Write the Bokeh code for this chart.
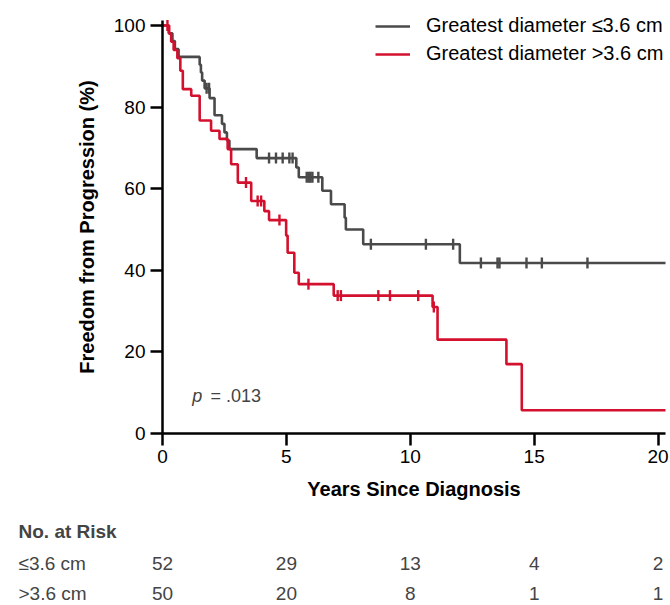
import numpy as np
from bokeh.plotting import figure
from bokeh.models import Range1d, FixedTicker, Label, Legend, LegendItem, LinearAxis
from bokeh.embed import file_html
from bokeh.resources import INLINE

FONT = "Liberation Sans"
GRAY = "#4a4a4a"
RED = "#d3112e"

# ---------------- data ----------------
x_max = 20.3

small_label = "Greatest diameter \u22643.6 cm"
small_t = [0, 0.25, 0.40, 0.50, 0.65, 1.50, 1.55, 1.60, 1.70, 1.90, 2.10, 2.40, 2.50,
           2.60, 2.70, 3.80, 5.40, 5.50, 6.45, 6.80, 7.35, 7.40, 8.10, 12.00]
small_s = [100, 98.1, 96.2, 94.2, 92.3, 90.4, 88.5, 86.5, 84.6, 82.2, 78.0, 75.9, 73.8,
           71.8, 69.7, 67.5, 65.2, 62.8, 59.5, 56.2, 52.9, 50.0, 46.4, 41.8]
small_cens = [1.78, 1.88, 4.30, 4.58, 4.85, 5.12, 5.25, 5.82, 5.90, 5.97, 6.05, 6.29,
              8.41, 10.63, 11.73, 12.85, 13.52, 13.60, 14.69, 15.31, 17.15]

large_label = "Greatest diameter >3.6 cm"
large_t = [0, 0.27, 0.35, 0.45, 0.60, 0.72, 0.82, 1.16, 1.50, 1.96, 2.30, 2.63, 2.77,
           3.04, 3.58, 4.11, 4.30, 4.99, 5.05, 5.32, 5.50, 6.91, 10.90, 11.10, 13.88, 14.50]
large_s = [100, 98.0, 96.0, 94.0, 92.0, 88.9, 84.4, 82.8, 76.7, 74.2, 72.2, 69.7, 66.0,
           61.5, 57.0, 54.5, 52.3, 48.5, 44.3, 39.4, 36.6, 33.8, 31.0, 23.0, 17.0, 5.7]
large_cens = [0.20, 3.37, 3.84, 3.98, 4.72, 5.89, 7.07, 7.20, 8.71, 9.18, 10.32, 10.95]

risk_times = [0, 5, 10, 15, 20]
risk_small = [52, 29, 13, 4, 2]
risk_large = [50, 20, 8, 1, 1]
risk_title = "No. at Risk"
risk_row_labels = ["\u22643.6 cm", ">3.6 cm"]
y_ticks = [0, 20, 40, 60, 80, 100]
p_text = "= .013"

# ---------------- layout geometry (pixels) ----------------
W, H = 670, 605
X0_PX = 162            # pixel column of x = 0
X_END_PX = 665         # pixel column where the x axis ends
Y0_PX = 433            # pixel row of y = 0
PX_PER_PCT = 4.08      # pixels per percentage point
px_per_year = (X_END_PX - X0_PX) / x_max


def xd(px):
    return (px - X0_PX) / px_per_year


def yd(py):
    return (Y0_PX - py) / PX_PER_PCT


def surv_at(ts, ss, c):
    idx = np.searchsorted(np.array(ts), c, side="right") - 1
    return ss[idx]


p = figure(width=W, height=H,
           x_range=Range1d(xd(0), xd(W)), y_range=Range1d(yd(H), yd(0)),
           output_backend="svg", toolbar_location=None,
           x_axis_location=None, y_axis_location=None,
           min_border_left=0, min_border_right=0, min_border_top=0, min_border_bottom=0)
p.outline_line_color = None
p.xgrid.visible = False
p.ygrid.visible = False

series = []
for ts, ss, cens, col in [(small_t, small_s, small_cens, GRAY),
                          (large_t, large_s, large_cens, RED)]:
    xs = list(ts) + [x_max]
    ys = list(ss) + [ss[-1]]
    r = p.step(xs, ys, mode="after", line_color=col, line_width=2.6)
    cy = [surv_at(ts, ss, c) for c in cens]
    p.scatter(cens, cy, marker="dash", angle=np.pi / 2, size=11,
              line_color=col, line_width=2.4)
    series.append(r)

xaxis = LinearAxis(fixed_location=0, ticker=FixedTicker(ticks=risk_times),
                   bounds=(0, x_max), axis_label="Years Since Diagnosis")
yaxis = LinearAxis(fixed_location=0, ticker=FixedTicker(ticks=y_ticks),
                   bounds=(0, 101.2), axis_label="Freedom from Progression (%)")
for ax in (xaxis, yaxis):
    ax.axis_line_width = 2.5
    ax.axis_line_color = "black"
    ax.major_tick_line_width = 2.5
    ax.major_tick_line_color = "black"
    ax.major_tick_out = 12
    ax.major_tick_in = 0
    ax.minor_tick_out = 0
    ax.minor_tick_in = 0
    ax.major_label_text_font = FONT
    ax.major_label_text_font_size = "19px"
    ax.major_label_text_color = "black"
    ax.axis_label_text_font = FONT
    ax.axis_label_text_font_size = "20px"
    ax.axis_label_text_font_style = "bold"
    ax.axis_label_text_color = "black"
xaxis.major_label_standoff = 4
xaxis.axis_label_standoff = 12
yaxis.major_label_standoff = 5
yaxis.axis_label_standoff = 13
p.add_layout(xaxis, "below")
p.add_layout(yaxis, "left")

legend = Legend(items=[LegendItem(label=small_label, renderers=[series[0]]),
                       LegendItem(label=large_label, renderers=[series[1]])],
                location=(375, H - 65), orientation="vertical",
                label_text_font=FONT, label_text_font_size="20px", label_text_color="black",
                glyph_width=35, glyph_height=20, label_height=20, label_standoff=16,
                spacing=5, padding=0, margin=0,
                border_line_color=None, background_fill_alpha=0)
p.add_layout(legend)

# p-value
p.add_layout(Label(x=1.2, y=9.1, text="p", text_font=FONT, text_font_size="18px",
                   text_font_style="italic", text_baseline="middle", text_align="left"))
p.add_layout(Label(x=1.94, y=9.1, text=p_text, text_font=FONT, text_font_size="18px",
                   text_baseline="middle", text_align="left"))

# ---------------- number-at-risk table ----------------
x_left = xd(18)
p.add_layout(Label(x=x_left, y=yd(531), text=risk_title, text_font=FONT,
                   text_font_size="19px", text_font_style="bold",
                   text_baseline="middle", text_align="left"))
for row_y, lab, vals in [(yd(563), risk_row_labels[0], risk_small),
                         (yd(593), risk_row_labels[1], risk_large)]:
    p.add_layout(Label(x=x_left, y=row_y, text=lab, text_font=FONT, text_font_size="19px",
                       text_baseline="middle", text_align="left"))
    for tt, v in zip(risk_times, vals):
        p.add_layout(Label(x=tt, y=row_y, text=str(v), text_font=FONT, text_font_size="19px",
                           text_baseline="middle", text_align="center"))

open("out.html", "w").write(file_html(p, INLINE))
